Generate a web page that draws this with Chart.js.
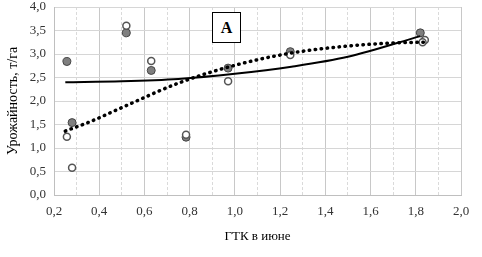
<!DOCTYPE html>
<html>
<head>
<meta charset="utf-8">
<script src="https://cdn.jsdelivr.net/npm/chart.js@4/dist/chart.umd.min.js"></script>
<style>
  body { margin: 0; background: #fff; }
  #wrap { position: relative; width: 482px; height: 257px; }
  #label {
    position: absolute; left: 212px; top: 12px; width: 27px; height: 29px;
    border: 1px solid #000; background: #fff;
    font: bold 16px "Liberation Serif", serif; text-align: center; line-height: 29px;
  }
</style>
</head>
<body>
<div id="wrap">
  <canvas id="chart" width="482" height="257"></canvas>
  <div id="label">А</div>
</div>
<script>
// measured points
const gtkX = [0.257, 0.28, 0.52, 0.63, 0.784, 0.97, 1.245, 1.82];
const yieldGray = [2.84, 1.54, 3.45, 2.65, 1.23, 2.70, 3.05, 3.45];
const gtkOpenX = [0.257, 0.28, 0.52, 0.63, 0.784, 0.97, 1.245, 1.84, 1.83];
const yieldOpen = [1.24, 0.58, 3.60, 2.85, 1.28, 2.42, 2.98, 3.30, 3.25];

// trend lines
const solidTrendX = [0.25, 0.5, 0.75, 1.0, 1.25, 1.5, 1.82];
const solidTrendY = [2.40, 2.42, 2.47, 2.58, 2.73, 2.94, 3.38];
const dotTrendX = [0.25, 0.3, 0.36, 0.5, 0.75, 1.0, 1.25, 1.5, 1.73, 1.84];
const dotTrendY = [1.36, 1.45, 1.56, 1.86, 2.38, 2.76, 3.02, 3.17, 3.24, 3.25];

const toPts = (xs, ys) => xs.map((x, i) => ({ x: x, y: ys[i] }));
const comma = v => v.toFixed(1).replace('.', ',');

const ctx = document.getElementById('chart').getContext('2d');
new Chart(ctx, {
    type: 'scatter',
    data: {
        datasets: [
            {
                type: 'line',
                data: toPts(solidTrendX, solidTrendY),
                borderColor: '#000',
                borderWidth: 2,
                pointRadius: 0,
                cubicInterpolationMode: 'monotone',
                fill: false,
            },
            {
                type: 'line',
                data: toPts(dotTrendX, dotTrendY),
                borderColor: '#000',
                borderWidth: 3.5,
                borderDash: [0.5, 5.5],
                borderCapStyle: 'round',
                pointRadius: 0,
                cubicInterpolationMode: 'monotone',
                fill: false,
            },
            {
                data: toPts(gtkOpenX, yieldOpen),
                backgroundColor: '#fff',
                borderColor: '#555',
                borderWidth: 1.5,
                pointRadius: 3.5,
            },
            {
                data: toPts(gtkX, yieldGray),
                backgroundColor: '#7f7f7f',
                borderColor: '#444',
                borderWidth: 1,
                pointRadius: 4,
            },
        ]
    },
    options: {
        animation: false,
        responsive: false,
        layout: { padding: { top: 7, right: 21, left: 0, bottom: 0 } },
        plugins: {
            legend: { display: false },
            tooltip: { enabled: false },
        },
        scales: {
            x: {
                type: 'linear',
                min: 0.2,
                max: 2.0,
                ticks: {
                    stepSize: 0.1,
                    autoSkip: false,
                    maxRotation: 0,
                    color: '#333',
                    font: { family: 'Liberation Serif', size: 13 },
                    padding: 9,
                    callback: v => Math.round(v * 10) % 2 === 0 ? comma(v) : '',
                },
                grid: {
                    color: ctx => Math.round(ctx.tick.value * 10) % 2 === 0 ? '#c8c8c8' : '#dadada',
                    drawTicks: false,
                },
                border: {
                    color: '#bfbfbf',
                    dash: ctx => Math.round(ctx.tick.value * 10) % 2 === 0 ? [] : [3, 2],
                },
                title: {
                    display: true,
                    text: 'ГТК в июне',
                    color: '#000',
                    font: { family: 'Liberation Serif', size: 13 },
                    padding: { top: 4, bottom: 13 },
                },
                afterFit: s => { s.height = 62; },
            },
            y: {
                min: 0,
                max: 4,
                ticks: {
                    stepSize: 0.5,
                    color: '#333',
                    font: { family: 'Liberation Serif', size: 13 },
                    padding: 8,
                    callback: v => comma(v),
                },
                grid: { color: '#d6d6d6', drawTicks: false },
                border: { color: '#bfbfbf' },
                title: {
                    display: true,
                    text: 'Урожайность, т/га',
                    color: '#000',
                    font: { family: 'Liberation Serif', size: 14 },
                    padding: { top: 5, bottom: 2 },
                },
                afterFit: s => { s.width = 54; s.paddingTop = 0; s.paddingBottom = 0; },
            },
        },
    },
});
</script>
</body>
</html>
